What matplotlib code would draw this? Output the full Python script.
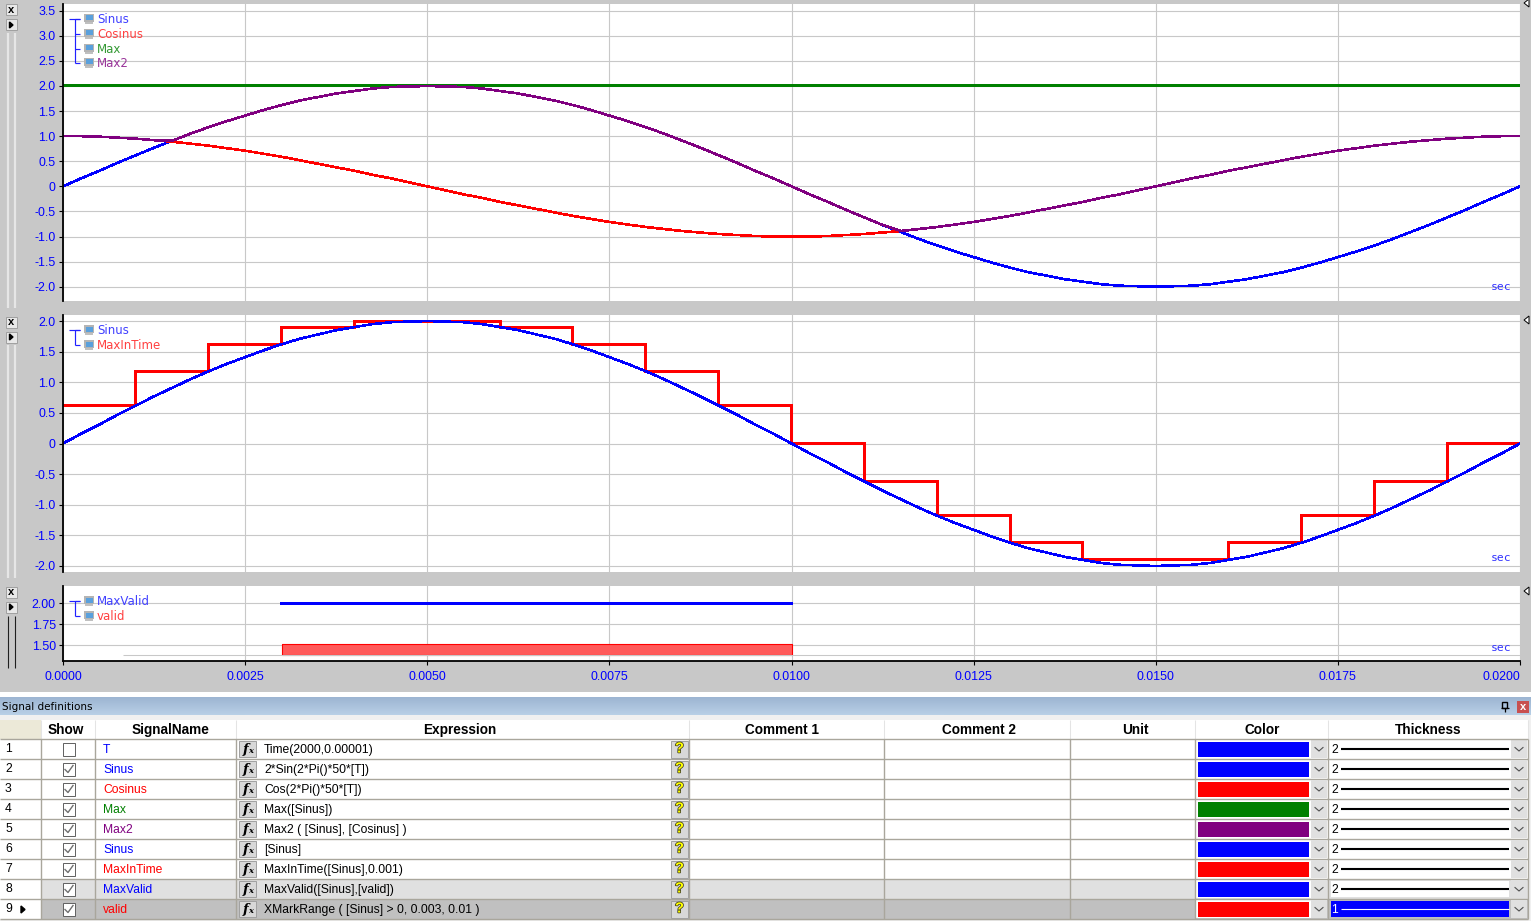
import matplotlib
matplotlib.use("Agg")
import numpy as np
import matplotlib.pyplot as plt
import matplotlib.patheffects as pe
from matplotlib.patches import Rectangle, Polygon

W, H = 1531, 921
UI_FONT = "Liberation Sans"
LEGEND_FONT = "DejaVu Sans"

# Sampled signals, one value each 0.00025 sec
t = [i * 0.00025 for i in range(81)]
sinus = [0.00, 0.16, 0.31, 0.47, 0.62, 0.77, 0.91, 1.05, 1.18, 1.30, 1.41, 1.52, 1.62, 1.71, 1.78, 1.85, 1.90, 1.95, 1.98, 1.99,
         2.00, 1.99, 1.98, 1.95, 1.90, 1.85, 1.78, 1.71, 1.62, 1.52, 1.41, 1.30, 1.18, 1.05, 0.91, 0.77, 0.62, 0.47, 0.31, 0.16,
         0.00, -0.16, -0.31, -0.47, -0.62, -0.77, -0.91, -1.05, -1.18, -1.30, -1.41, -1.52, -1.62, -1.71, -1.78, -1.85, -1.90, -1.95, -1.98, -1.99,
         -2.00, -1.99, -1.98, -1.95, -1.90, -1.85, -1.78, -1.71, -1.62, -1.52, -1.41, -1.30, -1.18, -1.05, -0.91, -0.77, -0.62, -0.47, -0.31, -0.16,
         0.00]
cosinus = [1.00, 1.00, 0.99, 0.97, 0.95, 0.92, 0.89, 0.85, 0.81, 0.76, 0.71, 0.65, 0.59, 0.52, 0.45, 0.38, 0.31, 0.23, 0.16, 0.08,
           0.00, -0.08, -0.16, -0.23, -0.31, -0.38, -0.45, -0.52, -0.59, -0.65, -0.71, -0.76, -0.81, -0.85, -0.89, -0.92, -0.95, -0.97, -0.99, -1.00,
           -1.00, -1.00, -0.99, -0.97, -0.95, -0.92, -0.89, -0.85, -0.81, -0.76, -0.71, -0.65, -0.59, -0.52, -0.45, -0.38, -0.31, -0.23, -0.16, -0.08,
           0.00, 0.08, 0.16, 0.23, 0.31, 0.38, 0.45, 0.52, 0.59, 0.65, 0.71, 0.76, 0.81, 0.85, 0.89, 0.92, 0.95, 0.97, 0.99, 1.00,
           1.00]
max_t = [0.0, 0.02]
max_val = [2.0, 2.0]
max2 = [1.00, 1.00, 0.99, 0.97, 0.95, 0.92, 0.91, 1.05, 1.18, 1.30, 1.41, 1.52, 1.62, 1.71, 1.78, 1.85, 1.90, 1.95, 1.98, 1.99,
        2.00, 1.99, 1.98, 1.95, 1.90, 1.85, 1.78, 1.71, 1.62, 1.52, 1.41, 1.30, 1.18, 1.05, 0.91, 0.77, 0.62, 0.47, 0.31, 0.16,
        0.00, -0.16, -0.31, -0.47, -0.62, -0.77, -0.89, -0.85, -0.81, -0.76, -0.71, -0.65, -0.59, -0.52, -0.45, -0.38, -0.31, -0.23, -0.16, -0.08,
        0.00, 0.08, 0.16, 0.23, 0.31, 0.38, 0.45, 0.52, 0.59, 0.65, 0.71, 0.76, 0.81, 0.85, 0.89, 0.92, 0.95, 0.97, 0.99, 1.00,
        1.00]

# MaxInTime steps
step_edges = [0.000, 0.001, 0.002, 0.003, 0.004, 0.005, 0.006, 0.007, 0.008, 0.009, 0.010,
              0.011, 0.012, 0.013, 0.014, 0.015, 0.016, 0.017, 0.018, 0.019, 0.020]
step_vals = [0.62, 1.18, 1.62, 1.90, 2.00, 2.00, 1.90, 1.62, 1.18, 0.62,
             0.00, -0.62, -1.18, -1.62, -1.90, -1.90, -1.62, -1.18, -0.62, 0.00]

valid_t = [0.003, 0.010]
max_valid = [2.0, 2.0]
valid_top = [1.51, 1.51]
valid_bottom = [1.38, 1.38]

x_ticks = [0.0, 0.0025, 0.005, 0.0075, 0.01, 0.0125, 0.015, 0.0175, 0.02]
x_labels = ["0.0000", "0.0025", "0.0050", "0.0075", "0.0100", "0.0125", "0.0150", "0.0175", "0.0200"]
y1_ticks = [3.5, 3, 2.5, 2, 1.5, 1, 0.5, 0, -0.5, -1, -1.5, -2]
y1_labels = ["3.5", "3.0", "2.5", "2.0", "1.5", "1.0", "0.5", "0", "-0.5", "-1.0", "-1.5", "-2.0"]
y2_ticks = [2, 1.5, 1, 0.5, 0, -0.5, -1, -1.5, -2]
y2_labels = ["2.0", "1.5", "1.0", "0.5", "0", "-0.5", "-1.0", "-1.5", "-2.0"]
y3_ticks = [2, 1.75, 1.5]
y3_labels = ["2.00", "1.75", "1.50"]

# Signal definitions table
col_edges = [41, 95, 236, 689, 884, 1070, 1195, 1328, 1528]
col_titles = ["Show", "SignalName", "Expression", "Comment 1", "Comment 2", "Unit", "Color", "Thickness"]
col_centers = [66, 170, 460, 782, 979, 1135, 1262, 1428]
row_names = ["T", "Sinus", "Cosinus", "Max", "Max2", "Sinus", "MaxInTime", "MaxValid", "valid"]
row_exprs = ["Time(2000,0.00001)", "2*Sin(2*Pi()*50*[T])", "Cos(2*Pi()*50*[T])", "Max([Sinus])",
             "Max2 ( [Sinus], [Cosinus] )", "[Sinus]", "MaxInTime([Sinus],0.001)",
             "MaxValid([Sinus],[valid])", "XMarkRange ( [Sinus] > 0, 0.003, 0.01 )"]
row_colors = ["#0000FF", "#0000FF", "#FF0000", "#008000", "#800080", "#0000FF", "#FF0000", "#0000FF", "#FF0000"]
row_show = [False, True, True, True, True, True, True, True, True]
row_thick = [2, 2, 2, 2, 2, 2, 2, 2, 1]
row_bg = ["white"] * 7 + ["#E0E0E0", "#C0C0C0"]

GRID = "#C8C8C8"
PANEL = "#C8C8C8"
LW = 1.15      # curves
LW_FLAT = 1.44  # straight runs, 2 px wide

fig = plt.figure(figsize=(W / 100, H / 100), dpi=100, facecolor=PANEL)


def px_axes(left, top, right, bottom, ylim, yticks, ylabels):
    ax = fig.add_axes([left / W, 1 - bottom / H, (right - left) / W, (bottom - top) / H])
    ax.set_xlim(0, 0.02)
    ax.set_ylim(*ylim)
    ax.set_yticks(yticks)
    ax.set_yticklabels(ylabels, color="#0000FF", fontsize=8.9, family=UI_FONT)
    ax.set_xticks(x_ticks)
    ax.grid(True, color=GRID, linewidth=0.8)
    ax.set_axisbelow(True)
    for s in ["top", "right", "bottom"]:
        ax.spines[s].set_visible(False)
    ax.spines["left"].set_linewidth(1.3)
    ax.tick_params(axis="y", length=3.2, width=0.8, pad=2)
    ax.tick_params(axis="x", length=0, labelbottom=False)
    return ax


ax1 = px_axes(63, 4, 1520, 301, (-2.285, 3.634), y1_ticks, y1_labels)
ax1.plot(t, sinus, color="#0000FF", lw=LW, antialiased=False)
ax1.plot(t, cosinus, color="#FF0000", lw=LW, antialiased=False)
ax1.plot(max_t, max_val, color="#008000", lw=LW_FLAT, antialiased=False, snap=False)
ax1.plot(t, max2, color="#800080", lw=LW, antialiased=False)

ax2 = px_axes(63, 315, 1520, 572, (-2.098, 2.098), y2_ticks, y2_labels)
ax2.stairs(step_vals, step_edges, color="#FF0000", lw=LW_FLAT, baseline=None, antialiased=False, snap=False)
ax2.plot(t, sinus, color="#0000FF", lw=LW, antialiased=False)

ax3 = px_axes(63, 586, 1520, 661, (1.31, 2.2024), y3_ticks, y3_labels)
ax3.plot(valid_t, max_valid, color="#0000FF", lw=LW_FLAT, antialiased=False, snap=False)
ax3.fill_between(valid_t, valid_bottom, valid_top, facecolor="#FF5A5A", edgecolor="#FF0000", lw=0.8)
ax3.spines["bottom"].set_visible(True)
ax3.spines["bottom"].set_linewidth(1.3)
ax3.tick_params(axis="x", length=3.2, width=0.8, pad=4, labelbottom=True)
ax3.set_xticklabels(x_labels, color="#0000FF", fontsize=8.9, family=UI_FONT)
ax3.get_xticklabels()[-1].set_ha("right")

# Everything else is window chrome, drawn in pixel coordinates
ui = fig.add_axes([0, 0, 1, 1], zorder=10)
ui.set_xlim(0, W)
ui.set_ylim(H, 0)
ui.axis("off")


def box(x0, y0, x1, y1, fc, ec="none", lw=0.7, z=1):
    ui.add_patch(Rectangle((x0, y0), x1 - x0, y1 - y0, facecolor=fc, edgecolor=ec, linewidth=lw, zorder=z))


def line(xs, ys, color, lw=0.75, z=2):
    ui.plot(xs, ys, color=color, lw=lw, zorder=z, solid_capstyle="butt")


def monitor(x, y):
    box(x, y - 5, x + 10, y + 3, "#B4B4B4", z=3)
    box(x + 1.5, y - 3.5, x + 8.5, y + 1.5, "#5AA0DC", z=4)
    box(x + 1, y + 3, x + 9, y + 5, "#C0C0C0", z=3)


def legend(rows, names, colors):
    line([69, 80], [rows[0], rows[0]], "#2020FF", lw=0.85)
    line([75, 75], [rows[0], rows[-1]], "#2020FF", lw=0.85)
    for ry, name, c in zip(rows, names, colors):
        line([75, 80], [ry, ry], "#2020FF", lw=0.85)
        monitor(84, ry)
        ui.text(97, ry + 0.5, name, color=c, fontsize=8.5, family=LEGEND_FONT, va="center", ha="left", zorder=5)


legend([19, 34, 49, 63], ["Sinus", "Cosinus", "Max", "Max2"], ["#4040FF", "#FF4040", "#339933", "#993399"])
legend([330, 345], ["Sinus", "MaxInTime"], ["#4040FF", "#FF4040"])
legend([601, 616], ["MaxValid", "valid"], ["#4040FF", "#FF4040"])

for sx, sy in [(1501, 287), (1501, 558), (1501, 648)]:
    ui.text(sx, sy, "sec", color="#3030FF", fontsize=8.2, family="DejaVu Sans Mono", ha="center", va="center", zorder=5)

# leftover grid traces in the lowest panel
line([123, 1520], [654.7, 654.7], GRID, z=0.5)


def small_button(cx, cy, kind):
    box(cx - 5.5, cy - 5.5, cx + 5.5, cy + 5.5, "#E8E8E8", ec="#A0A0A0")
    if kind == "x":
        ui.text(cx, cy, "x", fontsize=8, family=UI_FONT, weight="bold", ha="center", va="center", zorder=4)
    else:
        ui.add_patch(Polygon([[cx - 1.5, cy - 3], [cx + 2, cy], [cx - 1.5, cy + 3]], color="black", zorder=4))


for by0, by1, sl0, sl1, c, slw in [(10, 25, 33, 308, "#E6E6E6", 1.6), (322, 337, 345, 578, "#E6E6E6", 1.6),
                                   (592, 607, 616, 668, "#202020", 0.8)]:
    small_button(11, by0, "x")
    small_button(11, by1, "arrow")
    line([8, 8], [sl0, sl1], c, lw=slw)
    line([15, 15], [sl0, sl1], c, lw=slw)

for ty in [3, 320, 591]:
    ui.add_patch(Polygon([[1529, ty - 4], [1524, ty], [1529, ty + 4]], facecolor="white", edgecolor="black", lw=0.7, zorder=4))

# Lower docked panel
box(0, 692, W, 921, "#F0F0F0", z=0.2)
box(0, 692, W, 697, "white", z=0.3)
grad = np.linspace(0, 1, 18)[:, None, None] * (np.array([184, 207, 230]) - np.array([157, 181, 210])) + np.array([157, 181, 210])
ui.imshow(grad / 255, extent=(0, W, 715, 697), aspect="auto", zorder=0.5)
ui.set_xlim(0, W)
ui.set_ylim(H, 0)
ui.text(2, 706.5, "Signal definitions", fontsize=7.45, family=LEGEND_FONT, ha="left", va="center", zorder=3)
# pin icon
box(1502, 702, 1507, 708, "none", ec="black", lw=1, z=3)
line([1500.5, 1508.5], [708, 708], "black", lw=0.9, z=3)
line([1504.5, 1504.5], [708, 712], "black", lw=0.9, z=3)
box(1517, 701, 1529, 713, "#C85050", z=3)
ui.text(1523, 706.5, "x", fontsize=8, color="white", family=UI_FONT, weight="bold", ha="center", va="center", zorder=4)

# Header
HEAD_TOP, ROW0, ROW_H = 720, 739, 20
LINE_C = "#A9A69C"
box(0, HEAD_TOP, 1528, ROW0, "white", z=0.6)
box(0, HEAD_TOP, 41, ROW0, "#ECE9D8", z=0.7)
for title, cx in zip(col_titles, col_centers):
    ui.text(cx, 729.5, title, fontsize=9.8, weight="bold", family=UI_FONT, ha="center", va="center", zorder=3)
for x in col_edges:
    line([x, x], [HEAD_TOP, ROW0], "#E4E4E4", z=1)

# Rows
for i in range(len(row_names)):
    y0 = ROW0 + i * ROW_H
    y1 = y0 + ROW_H
    yc = y0 + 10.5
    box(0, y0, 41, y1, "white", z=0.6)
    box(41, y0, 1528, y1, row_bg[i], z=0.6)
    line([0, 1528], [y1, y1], LINE_C, lw=1)
    ui.text(5, yc - 1, str(i + 1), fontsize=8.7, family=UI_FONT, ha="left", va="center", zorder=3)
    # Show checkbox
    box(62.5, yc - 6.5, 75, yc + 6, "white", ec="#606060", lw=0.7, z=3)
    if row_show[i]:
        ui.plot([65, 68, 73], [yc, yc + 3, yc - 4], color="#707070", lw=1, zorder=4)
    ui.text(103, yc, row_names[i], color=row_colors[i], fontsize=8.7, family=UI_FONT, ha="left", va="center", zorder=3)
    # fx button
    box(238.5, y0 + 2, 256, y1 - 2, "#D8D8D8", ec="#A0A0A0", z=3)
    ui.text(245.5, yc - 0.5, "f", fontsize=9.5, family="DejaVu Serif", style="italic", weight="bold", ha="center", va="center", zorder=4)
    ui.text(251, yc + 1, "x", fontsize=6, family="DejaVu Serif", style="italic", weight="bold", ha="center", va="center", zorder=4)
    ui.text(264, yc, row_exprs[i], fontsize=8.7, family=UI_FONT, ha="left", va="center", zorder=3)
    # help button
    box(670.5, y0 + 2, 688, y1 - 1.5, "#D8D8D8", ec="#A0A0A0", z=3)
    ui.text(679.5, yc - 1, "?", fontsize=10.5, color="#FFFF00", family=UI_FONT, weight="bold", ha="center", va="center", zorder=4,
            path_effects=[pe.withStroke(linewidth=1.1, foreground="#404020")])
    # colour swatch
    box(1196, y0 + 1, 1311, y1 - 1, "white", z=0.8)
    box(1198, y0 + 3, 1309, y1 - 2, row_colors[i], z=3)
    for ax0, ax1_ in [(1311, 1327), (1511, 1527)]:
        box(ax0, y0 + 1, ax1_, y1 - 1, "#E0E0E0", z=2)
        mid = (ax0 + ax1_) / 2
        ui.plot([mid - 4, mid, mid + 4], [yc - 2, yc + 1.5, yc - 2], color="#505050", lw=0.8, zorder=4)
    # thickness
    if row_thick[i] == 2:
        box(1331, y0 + 2, 1509, y1 - 2, "white", z=0.9)
        ui.text(1331, yc, "2", fontsize=8.7, family=UI_FONT, ha="left", va="center", zorder=3)
        line([1341, 1509], [yc - 1, yc - 1], "black", lw=1.5, z=3)
    else:
        box(1331, y0 + 2, 1509, y1 - 2, "#0000FF", z=0.9)
        ui.text(1331, yc, "1", fontsize=8.7, color="white", family=UI_FONT, ha="left", va="center", zorder=3)
        line([1341, 1509], [yc - 1, yc - 1], "white", lw=0.8, z=3)

for x in col_edges:
    line([x, x], [ROW0, 919], LINE_C, lw=1, z=1.5)
line([0, 1528], [ROW0, ROW0], LINE_C, lw=1)
ui.add_patch(Polygon([[21, 906], [25, 909.5], [21, 913]], color="black", zorder=4))

fig.savefig("out.png", dpi=100, facecolor=fig.get_facecolor())
